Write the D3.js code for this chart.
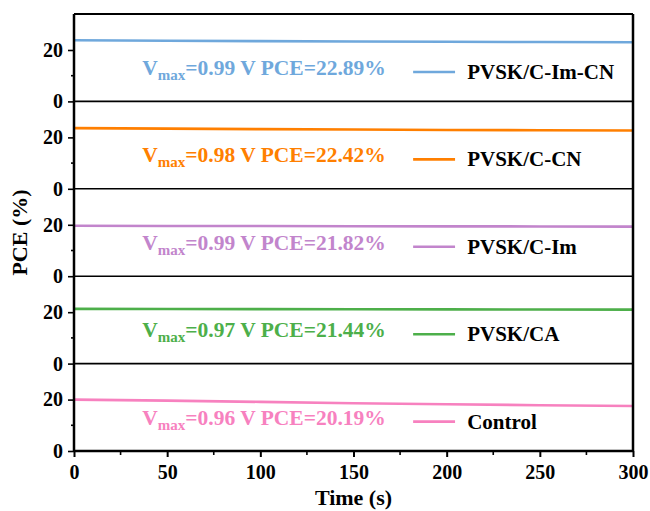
<!DOCTYPE html>
<html>
<head>
<meta charset="utf-8">
<script src="https://cdn.jsdelivr.net/npm/d3@7"></script>
<style>
  body { margin:0; background:#fff; }
  svg { font-family:"Liberation Serif","Times New Roman",serif; font-weight:bold; }
</style>
</head>
<body>
<div id="chart-area"></div>
<script>
// data
const times = [0, 50, 100, 150, 200, 250, 300];
const names = ["PVSK/C-Im-CN", "PVSK/C-CN", "PVSK/C-Im", "PVSK/CA", "Control"];
const colors = ["#6fa8dc", "#ff7f00", "#c285cc", "#4daf4a", "#f781bf"];
const vmax = ["0.99", "0.98", "0.99", "0.97", "0.96"];
const pce = ["22.89", "22.42", "21.82", "21.44", "20.19"];
const imcn = [23.8, 23.6, 23.45, 23.3, 23.2, 23.1, 23.0];
const cn   = [23.6, 23.4, 23.2, 23.05, 22.9, 22.8, 22.7];
const im   = [19.6, 19.55, 19.5, 19.45, 19.4, 19.35, 19.3];
const ca   = [21.3, 21.25, 21.2, 21.15, 21.1, 21.05, 21.0];
const ctrl = [20.0, 19.6, 19.1, 18.6, 18.2, 17.8, 17.5];
const series = [imcn, cn, im, ca, ctrl];
const xTicks = [0, 50, 100, 150, 200, 250, 300];
const yTicks = [0, 20];

const margin = { left:74, right:17, top:14, bottom:60 };
const width = 650 - margin.left - margin.right,
    height = 511 - margin.top - margin.bottom;
const ph = height / 5;

var svg = d3.select("#chart-area")
    .append("svg")
    .attr("width", 650)
    .attr("height", 511);

const g = svg.append("g")
    .attr("transform", "translate(" + margin.left + ", " + margin.top + ")");

const x = d3.scaleLinear().domain([0, 300]).range([0, width]);
const y = d3.scaleLinear().domain([0, 34]).range([ph, 0]);

const line = d3.line()
    .x(function(d, i){ return x(times[i]); })
    .y(function(d){ return y(d); });

series.forEach(function(s, k){
    const p = g.append("g").attr("transform", "translate(0," + (k * ph) + ")");

    // separator / bottom of panel
    p.append("line")
        .attr("x1", 0).attr("x2", width)
        .attr("y1", ph).attr("y2", ph)
        .attr("stroke", "#000").attr("stroke-width", k == 4 ? 2.5 : 1.6);

    p.append("path")
        .datum(s)
        .attr("d", line)
        .attr("fill", "none")
        .attr("stroke", colors[k])
        .attr("stroke-width", 2.6);

    // y ticks
    const yAxis = d3.axisLeft(y).tickValues(yTicks).tickSize(6).tickPadding(5)
        .tickFormat(d3.format("d"));
    const ya = p.append("g").call(yAxis);
    ya.select(".domain").remove();
    ya.selectAll("line").attr("stroke-width", 1.6);
    ya.selectAll("text").attr("font-size", "20px").attr("font-family", "Liberation Serif")
        .attr("font-weight", "bold").attr("fill", "#000");
    p.append("line")
        .attr("x1", -3).attr("x2", 0)
        .attr("y1", y(10)).attr("y2", y(10))
        .attr("stroke", "#000").attr("stroke-width", 1.6);

    // Vmax / PCE label
    const t = p.append("text")
        .attr("x", x(102))
        .attr("y", 61)
        .attr("text-anchor", "middle")
        .attr("font-size", "21.5px")
        .attr("fill", colors[k]);
    t.append("tspan").text("V");
    t.append("tspan").attr("font-size", "15px").attr("dy", 5).text("max");
    t.append("tspan").attr("dy", -5).text("=" + vmax[k] + " V PCE=" + pce[k] + "%");

    // legend
    p.append("line")
        .attr("x1", x(182)).attr("x2", x(204.5))
        .attr("y1", 58).attr("y2", 58)
        .attr("stroke", colors[k]).attr("stroke-width", 2.6);
    p.append("text")
        .attr("x", x(211))
        .attr("y", 65)
        .attr("font-size", "21px")
        .attr("fill", "#000")
        .text(names[k]);
});

// frame
g.append("line").attr("x1", 0).attr("x2", width).attr("y1", 0).attr("y2", 0)
    .attr("stroke", "#000").attr("stroke-width", 2);
g.append("line").attr("x1", 0).attr("x2", 0).attr("y1", 0).attr("y2", height)
    .attr("stroke", "#000").attr("stroke-width", 2.5);
g.append("line").attr("x1", width).attr("x2", width).attr("y1", 0).attr("y2", height)
    .attr("stroke", "#000").attr("stroke-width", 2.5);

// x axis
var xAxisCall = d3.axisBottom(x).tickValues(xTicks).tickSize(6).tickPadding(8);
const xa = g.append("g")
    .attr("transform", "translate(0, " + height + ")")
    .call(xAxisCall);
xa.select(".domain").remove();
xa.selectAll("line").attr("stroke-width", 2);
xa.selectAll("text").attr("font-size", "20px").attr("font-family", "Liberation Serif")
    .attr("font-weight", "bold").attr("fill", "#000");
g.append("g").selectAll("line")
    .data([25, 75, 125, 175, 225, 275])
    .enter().append("line")
    .attr("x1", function(d){ return x(d); }).attr("x2", function(d){ return x(d); })
    .attr("y1", height).attr("y2", height + 4)
    .attr("stroke", "#000").attr("stroke-width", 1.6);

// labels
g.append("text")
    .attr("x", width / 2)
    .attr("y", height + 54)
    .attr("font-size", "22px")
    .attr("text-anchor", "middle")
    .text("Time (s)");

g.append("text")
    .attr("transform", "translate(" + (-47) + "," + (height / 2) + ") rotate(-90)")
    .attr("font-size", "22px")
    .attr("text-anchor", "middle")
    .text("PCE (%)");
</script>
</body>
</html>
